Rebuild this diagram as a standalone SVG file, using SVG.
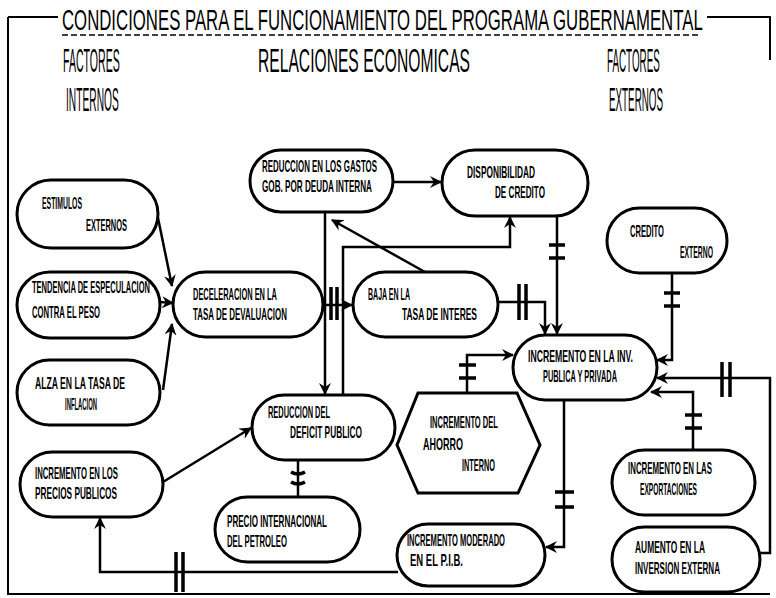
<svg xmlns="http://www.w3.org/2000/svg" width="776" height="598" viewBox="0 0 776 598">
<style>
.frame{fill:none;stroke:#000;stroke-width:2}
.node{fill:#fff;stroke:#000;stroke-width:3}
.c{fill:none;stroke:#000;stroke-width:2.5}
.tick{fill:none;stroke:#000;stroke-width:3.5}
.h{font-family:"Liberation Sans Narrow","Liberation Sans",sans-serif;font-size:33px;fill:#000}
.ti{font-family:"Liberation Sans Narrow","Liberation Sans",sans-serif;font-size:30px;fill:#000}
.t{font-family:"Liberation Sans Narrow","Liberation Sans",sans-serif;font-size:17px;font-weight:bold;fill:#000}
</style>
<defs>
<marker id="ar" viewBox="0 0 12 12" refX="11" refY="6" markerWidth="12" markerHeight="12" markerUnits="userSpaceOnUse" orient="auto">
<path d="M0,0 L12,6 L0,12 L4,6 z" fill="#000"/>
</marker>
</defs>
<rect width="776" height="598" fill="#fff"/>
<g id="frame">
<path class="frame" d="M8,17 L58,17 M707,17 L770,17 L770,60 M8,17 L8,594 L770,594"/>
<line x1="62" y1="35" x2="700" y2="35" stroke="#000" stroke-width="1.5" stroke-dasharray="6 3"/>
<text class="ti" transform="translate(62,30) scale(0.55,1)" textLength="1165" lengthAdjust="spacingAndGlyphs">CONDICIONES PARA EL FUNCIONAMIENTO DEL PROGRAMA GUBERNAMENTAL</text>
<text class="h" transform="translate(63,72) scale(0.4,1)" textLength="142" lengthAdjust="spacingAndGlyphs">FACTORES</text>
<text class="h" transform="translate(66,111) scale(0.4,1)" textLength="132" lengthAdjust="spacingAndGlyphs">INTERNOS</text>
<text class="h" transform="translate(258,72) scale(0.4,1)" textLength="530" lengthAdjust="spacingAndGlyphs">RELACIONES ECONOMICAS</text>
<text class="h" transform="translate(607,72) scale(0.4,1)" textLength="132" lengthAdjust="spacingAndGlyphs">FACTORES</text>
<text class="h" transform="translate(609,111) scale(0.4,1)" textLength="135" lengthAdjust="spacingAndGlyphs">EXTERNOS</text>
</g>
<g id="connectors">
<path class="c" d="M158,218 L172,286" marker-end="url(#ar)"/>
<path class="c" d="M160,302 L173,303" marker-end="url(#ar)"/>
<path class="c" d="M163,390 L172,324" marker-end="url(#ar)"/>
<path class="c" d="M323,305 L352,305" marker-end="url(#ar)"/>
<path class="tick" d="M331,287 L331,320 M337,287 L337,320"/>
<path class="c" d="M325,212 L325,394" marker-end="url(#ar)"/>
<path class="c" d="M343,395 L343,247 L510,247 L510,217" marker-end="url(#ar)"/>
<path class="c" d="M425,272 L332,220" marker-end="url(#ar)"/>
<path class="c" d="M393,182 L441,182" marker-end="url(#ar)"/>
<path class="c" d="M557,216 L557,334" marker-end="url(#ar)"/>
<path class="tick" d="M549,245 L565,245 M549,258 L565,258"/>
<path class="c" d="M498,302 L545,302 L545,334" marker-end="url(#ar)"/>
<path class="tick" d="M519,284 L519,320 M526,284 L526,320"/>
<path class="c" d="M672,273 L672,360 L657,360" marker-end="url(#ar)"/>
<path class="tick" d="M664,293 L680,293 M664,306 L680,306"/>
<path class="c" d="M760,553 L770,553 L770,378 L657,378" marker-end="url(#ar)"/>
<path class="tick" d="M722,362 L722,397 M730,362 L730,397"/>
<path class="c" d="M693,450 L693,392 L651,392" marker-end="url(#ar)"/>
<path class="tick" d="M685,415 L702,415 M685,428 L702,428"/>
<path class="c" d="M467,393 L467,355 L513,355" marker-end="url(#ar)"/>
<path class="tick" d="M459,365 L476,365 M459,378 L476,378"/>
<path class="c" d="M564,400 L564,547 L546,547" marker-end="url(#ar)"/>
<path class="tick" d="M555,492 L574,492 M555,507 L574,507"/>
<path class="c" d="M398,572 L100,572 L100,518" marker-end="url(#ar)"/>
<path class="tick" d="M176,552 L176,592 M183,552 L183,592"/>
<path class="c" d="M163,482 L251,428" marker-end="url(#ar)"/>
<path class="c" d="M298,460 L298,497"/>
<path class="tick" d="M291,472 Q298,476 305,472 M291,482 Q298,486 305,482"/>
</g>
<g id="n1"><rect class="node" x="17" y="180" width="141" height="68" rx="34"/>
<text class="t" transform="translate(42,209) scale(0.5,1)" textLength="80" lengthAdjust="spacingAndGlyphs">ESTIMULOS</text>
<text class="t" transform="translate(86,231) scale(0.5,1)" textLength="82" lengthAdjust="spacingAndGlyphs">EXTERNOS</text></g>
<g id="n2"><rect class="node" x="17" y="272" width="143" height="66" rx="33"/>
<text class="t" transform="translate(32,293) scale(0.5,1)" textLength="236" lengthAdjust="spacingAndGlyphs">TENDENCIA DE ESPECULACION</text>
<text class="t" transform="translate(32,318) scale(0.5,1)" textLength="136" lengthAdjust="spacingAndGlyphs">CONTRA EL PESO</text></g>
<g id="n3"><rect class="node" x="17" y="360" width="143" height="65" rx="32.5"/>
<text class="t" transform="translate(35,389) scale(0.5,1)" textLength="180" lengthAdjust="spacingAndGlyphs">ALZA EN LA TASA DE</text>
<text class="t" transform="translate(65,410) scale(0.5,1)" textLength="64" lengthAdjust="spacingAndGlyphs">INFLACION</text></g>
<g id="n4"><rect class="node" x="173" y="272" width="150" height="65" rx="32.5"/>
<text class="t" transform="translate(193,300) scale(0.5,1)" textLength="168" lengthAdjust="spacingAndGlyphs">DECELERACION EN LA</text>
<text class="t" transform="translate(193,320) scale(0.5,1)" textLength="188" lengthAdjust="spacingAndGlyphs">TASA DE DEVALUACION</text></g>
<g id="n5"><rect class="node" x="250" y="150" width="143" height="62" rx="31"/>
<text class="t" transform="translate(262,172) scale(0.5,1)" textLength="230" lengthAdjust="spacingAndGlyphs">REDUCCION EN LOS GASTOS</text>
<text class="t" transform="translate(262,192) scale(0.5,1)" textLength="220" lengthAdjust="spacingAndGlyphs">GOB. POR DEUDA INTERNA</text></g>
<g id="n6"><rect class="node" x="442" y="150" width="146" height="66" rx="33"/>
<text class="t" transform="translate(467,178) scale(0.5,1)" textLength="136" lengthAdjust="spacingAndGlyphs">DISPONIBILIDAD</text>
<text class="t" transform="translate(495,198) scale(0.5,1)" textLength="100" lengthAdjust="spacingAndGlyphs">DE CREDITO</text></g>
<g id="n7"><rect class="node" x="353" y="272" width="145" height="65" rx="32.5"/>
<text class="t" transform="translate(368,300) scale(0.5,1)" textLength="84" lengthAdjust="spacingAndGlyphs">BAJA EN LA</text>
<text class="t" transform="translate(402,320) scale(0.5,1)" textLength="150" lengthAdjust="spacingAndGlyphs">TASA DE INTERES</text></g>
<g id="n8"><rect class="node" x="607" y="208" width="120" height="65" rx="32.5"/>
<text class="t" transform="translate(630,237) scale(0.5,1)" textLength="68" lengthAdjust="spacingAndGlyphs">CREDITO</text>
<text class="t" transform="translate(680,258) scale(0.5,1)" textLength="66" lengthAdjust="spacingAndGlyphs">EXTERNO</text></g>
<g id="n9"><rect class="node" x="513" y="335" width="144" height="65" rx="32.5"/>
<text class="t" transform="translate(528,362) scale(0.5,1)" textLength="210" lengthAdjust="spacingAndGlyphs">INCREMENTO EN LA INV.</text>
<text class="t" transform="translate(543,382) scale(0.5,1)" textLength="148" lengthAdjust="spacingAndGlyphs">PUBLICA Y PRIVADA</text></g>
<g id="n10"><polygon class="node" points="418,393 517,393 540,445 518,493 418,493 397,445"/>
<text class="t" transform="translate(430,428) scale(0.5,1)" textLength="136" lengthAdjust="spacingAndGlyphs">INCREMENTO DEL</text>
<text class="t" transform="translate(423,450) scale(0.5,1)" textLength="80" lengthAdjust="spacingAndGlyphs">AHORRO</text>
<text class="t" transform="translate(462,471) scale(0.5,1)" textLength="66" lengthAdjust="spacingAndGlyphs">INTERNO</text></g>
<g id="n11"><rect class="node" x="252" y="395" width="143" height="65" rx="32.5"/>
<text class="t" transform="translate(268,418) scale(0.5,1)" textLength="124" lengthAdjust="spacingAndGlyphs">REDUCCION DEL</text>
<text class="t" transform="translate(290,438) scale(0.5,1)" textLength="144" lengthAdjust="spacingAndGlyphs">DEFICIT PUBLICO</text></g>
<g id="n12"><rect class="node" x="20" y="452" width="143" height="65" rx="32.5"/>
<text class="t" transform="translate(35,479) scale(0.5,1)" textLength="166" lengthAdjust="spacingAndGlyphs">INCREMENTO EN LOS</text>
<text class="t" transform="translate(35,499) scale(0.5,1)" textLength="164" lengthAdjust="spacingAndGlyphs">PRECIOS PUBLICOS</text></g>
<g id="n13"><rect class="node" x="215" y="497" width="145" height="65" rx="32.5"/>
<text class="t" transform="translate(227,527) scale(0.5,1)" textLength="200" lengthAdjust="spacingAndGlyphs">PRECIO INTERNACIONAL</text>
<text class="t" transform="translate(227,547) scale(0.5,1)" textLength="120" lengthAdjust="spacingAndGlyphs">DEL PETROLEO</text></g>
<g id="n14"><rect class="node" x="397" y="524" width="148" height="62" rx="31"/>
<text class="t" transform="translate(407,546) scale(0.5,1)" textLength="196" lengthAdjust="spacingAndGlyphs">INCREMENTO MODERADO</text>
<text class="t" transform="translate(410,566) scale(0.5,1)" textLength="106" lengthAdjust="spacingAndGlyphs">EN EL P.I.B.</text></g>
<g id="n15"><rect class="node" x="612" y="450" width="143" height="65" rx="32.5"/>
<text class="t" transform="translate(628,474) scale(0.5,1)" textLength="168" lengthAdjust="spacingAndGlyphs">INCREMENTO EN LAS</text>
<text class="t" transform="translate(640,495) scale(0.5,1)" textLength="114" lengthAdjust="spacingAndGlyphs">EXPORTACIONES</text></g>
<g id="n16"><rect class="node" x="612" y="527" width="148" height="65" rx="32.5"/>
<text class="t" transform="translate(635,553) scale(0.5,1)" textLength="140" lengthAdjust="spacingAndGlyphs">AUMENTO EN LA</text>
<text class="t" transform="translate(635,574) scale(0.5,1)" textLength="170" lengthAdjust="spacingAndGlyphs">INVERSION EXTERNA</text></g>
</svg>
